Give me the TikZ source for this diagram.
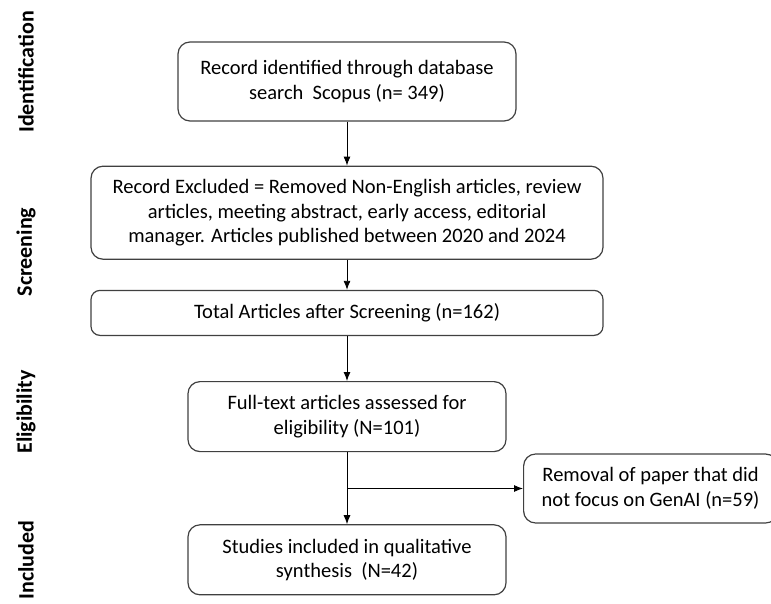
\documentclass[tikz,border=0pt]{standalone}
\usepackage{fontspec}
\setmainfont{Carlito}
\usetikzlibrary{positioning,arrows.meta}

\begin{document}
\begin{tikzpicture}[x=1pt, y=-1pt, every node/.style = {align=center, font=\fontsize{20.5}{24.5}\selectfont},
    box/.style = {draw=black!75, line width=1.2pt, rounded corners=12pt, inner sep=0pt},
    phase/.style = {rotate=90, font=\fontsize{22}{26}\selectfont\bfseries},
    arr/.style = {-{Latex[length=9pt,width=7pt]}, line width=0.9pt}]
  \useasboundingbox (0,0) rectangle (771,603);
  \clip (0,0) rectangle (771,603);
  \node [box, minimum width=338pt, minimum height=79pt] (ident) at (347,81.5)
    {Record identified through database\\search~ Scopus (n= 349)};
  \node [box, minimum width=512pt, minimum height=93pt, below=44pt of ident] (excl)
    {Record Excluded = Removed Non-English articles, review\\articles, meeting abstract, early access, editorial\\manager. Articles published between 2020 and 2024};
  \node [box, rounded corners=9pt, minimum width=512pt, minimum height=45pt, below=30pt of excl] (total)
    {Total Articles after Screening (n=162)};
  \node [box, minimum width=318pt, minimum height=70pt, below=45pt of total] (full)
    {Full-text articles assessed for\\eligibility (N=101)};
  \node [box, minimum width=318pt, minimum height=70pt, below=72pt of full] (incl)
    {Studies included in qualitative\\synthesis~ (N=42)};
  \node [box, minimum width=254pt, minimum height=69pt, anchor=west] (removal) at (523,488.5)
    {Removal of paper that did\\not focus on GenAI (n=59)};
  \coordinate (split) at (full.south |- removal.west);

  \node [phase] (pIdent) at (26,72) {Identification};
  \node [phase] (pScreen) at (26,252) {Screening};
  \node [phase] (pElig) at (26,412) {Eligibility};
  \node [phase] (pIncl) at (26,560) {Included};

  \draw [arr] (ident) -- (excl);
  \draw [arr] (excl) -- (total);
  \draw [arr] (total) -- (full);
  \draw [arr] (full) -- (incl);
  \draw [arr] (split) -- (removal);
\end{tikzpicture}
\end{document}
